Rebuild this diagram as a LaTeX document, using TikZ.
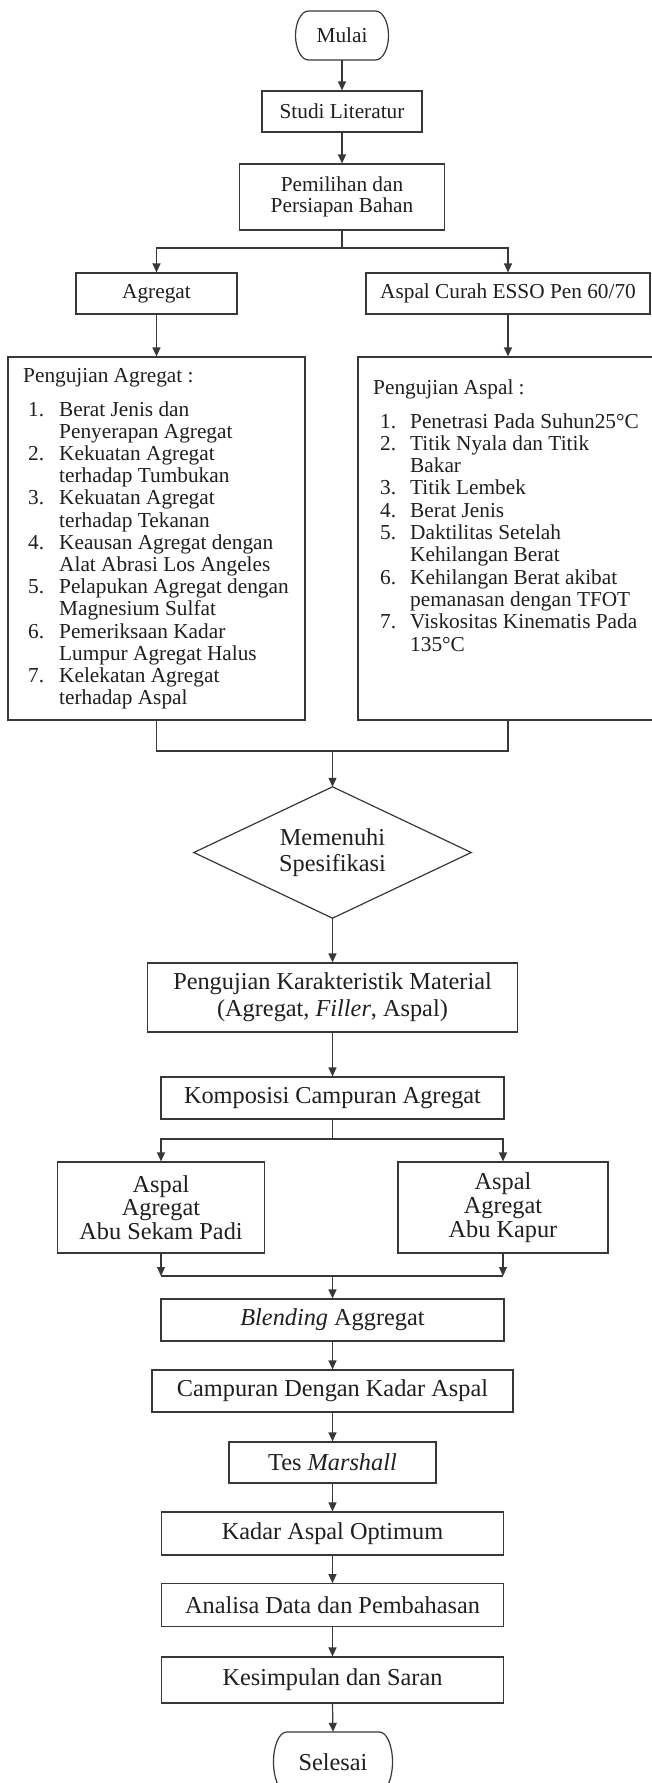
\documentclass[tikz,border=0pt]{standalone}
\usepackage{fontspec}
\setmainfont{Liberation Serif}
\usetikzlibrary{arrows.meta}
\begin{document}
\begin{tikzpicture}[x=1pt,y=-1pt,
  every node/.style={inner sep=0pt, text=black!88},
  ln/.style={draw=black!78, line width=1.2pt},
  arr/.style={ln, -{Triangle[length=9pt,width=8pt]}},
  bx/.style={draw=black!78, line width=1.2pt},
  ftop/.style={font=\fontsize{21.3pt}{21.5pt}\selectfont},
  fbot/.style={font=\fontsize{24.3pt}{24pt}\selectfont}]
\useasboundingbox (0,0) rectangle (652,1783);
\fill[white] (0,0) rectangle (652,1783);
\clip (0,0) rectangle (652,1783);

% ---------- top chain ----------
\node[ftop, minimum width=93pt, minimum height=49pt] (mulai) at (342,35.5) {Mulai};
\draw[ln] (308.5,11) -- (375.5,11) .. controls (382.7,11) and (388.5,22) .. (388.5,35.5)
  .. controls (388.5,49) and (382.7,60) .. (375.5,60) -- (308.5,60)
  .. controls (301.3,60) and (295.5,49) .. (295.5,35.5)
  .. controls (295.5,22) and (301.3,11) .. (308.5,11) -- cycle;

\node[bx, ftop, minimum width=160pt, minimum height=41pt] (studi) at (342,111.5) {Studi Literatur};
\node[bx, ftop, align=center, minimum width=205pt, minimum height=66pt] (pilih) at (342,197) {Pemilihan dan\\Persiapan Bahan};
\node[bx, ftop, minimum width=161pt, minimum height=41pt] (agr) at (156.5,293.5) {Agregat};
\node[bx, ftop, minimum width=284pt, minimum height=41pt] (asp) at (508,293.5) {Aspal Curah ESSO Pen 60/70};
\node[bx, minimum width=297pt, minimum height=363pt] (uA) at (156.5,538.5) {};
\node[bx, minimum width=302pt, minimum height=363pt] (uB) at (509,538.5) {};

\draw[arr] (mulai.south) -- (studi.north);
\draw[arr] (studi.south) -- (pilih.north);
\coordinate (s1) at (342,248);
\draw[ln] (pilih.south) -- (s1);
\draw[arr] (s1) -| (agr.north);
\draw[arr] (s1) -| (asp.north);
\draw[arr] (agr.south) -- (agr.south |- uA.north);
\draw[arr] (asp.south) -- (asp.south |- uB.north);

% ---------- lists ----------
\node[ftop, anchor=base west] (hA) at (23,382) {Pengujian Agregat :};
\foreach \n/\t [count=\i from 0] in {1./Berat Jenis dan, /Penyerapan Agregat,
  2./Kekuatan Agregat, /terhadap Tumbukan, 3./Kekuatan Agregat, /terhadap Tekanan,
  4./Keausan Agregat dengan, /Alat Abrasi Los Angeles,
  5./Pelapukan Agregat dengan, /Magnesium Sulfat,
  6./Pemeriksaan Kadar, /Lumpur Agregat Halus, 7./Kelekatan Agregat, /terhadap Aspal}
  \node[ftop, anchor=base west] (la\i) at (28,416+22.2*\i) {\makebox[31pt][l]{\n}\t};

\node[ftop, anchor=base west] (hB) at (373,394) {Pengujian Aspal :};
\foreach \n/\t [count=\i from 0] in {1./Penetrasi Pada Suhun25°C, 2./Titik Nyala dan Titik,
  /Bakar, 3./Titik Lembek, 4./Berat Jenis, 5./Daktilitas Setelah, /Kehilangan Berat,
  6./Kehilangan Berat akibat, /pemanasan dengan TFOT, 7./Viskositas Kinematis Pada, /135°C}
  \node[ftop, anchor=base west] (lb\i) at (380,428+22.3*\i) {\makebox[30pt][l]{\n}\t};

% ---------- merge & decision ----------
\coordinate (m1) at (332.5,751);
\draw[ln] (uA.south) |- (m1);
\draw[ln] (asp.south |- uB.south) |- (m1);

\node[align=center, font=\fontsize{24.3pt}{26pt}\selectfont, minimum width=277pt, minimum height=131pt] (spec) at (332.5,852.5) {Memenuhi\\Spesifikasi};
\draw[ln] (spec.north) -- (spec.east) -- (spec.south) -- (spec.west) -- cycle;
\draw[arr] (m1) -- (spec.north);

\node[bx, align=center, font=\fontsize{24.3pt}{27pt}\selectfont, minimum width=370pt, minimum height=69pt] (pk) at (332.5,997.5) {Pengujian Karakteristik Material\\(Agregat, \textit{Filler}, Aspal)};
\draw[arr] (spec.south) -- (pk.north);

\node[bx, fbot, minimum width=343pt, minimum height=42pt] (komp) at (332.5,1098) {Komposisi Campuran Agregat};
\draw[arr] (pk.south) -- (komp.north);

\node[bx, align=center, font=\fontsize{24.3pt}{23.8pt}\selectfont, minimum width=207pt, minimum height=91pt] (campA) at (161,1207.5) {Aspal\\Agregat\\Abu Sekam Padi};
\node[bx, align=center, font=\fontsize{24.3pt}{23.8pt}\selectfont, minimum width=210pt, minimum height=91pt] (campB) at (503,1207.5) {Aspal\\Agregat\\Abu Kapur};
\coordinate (s2) at (332.5,1139);
\draw[ln] (komp.south) -- (s2);
\draw[arr] (s2) -| (campA.north);
\draw[arr] (s2) -| (campB.north);

\coordinate (mA) at (161,1276);
\coordinate (mB) at (503,1276);
\coordinate (m2) at (332.5,1276);
\draw[arr] (campA.south) -- (mA);
\draw[arr] (campB.south) -- (mB);
\draw[ln] (mA) -- (mB);

\node[bx, fbot, minimum width=343pt, minimum height=42pt] (blend) at (332.5,1320) {\textit{Blending} Aggregat};
\draw[arr] (m2) -- (blend.north);
\node[bx, fbot, minimum width=361pt, minimum height=42pt] (camp) at (332.5,1391) {Campuran Dengan Kadar Aspal};
\draw[arr] (blend.south) -- (camp.north);
\node[bx, fbot, minimum width=207pt, minimum height=41pt] (tes) at (332.5,1462.5) {Tes \textit{Marshall}};
\draw[arr] (camp.south) -- (tes.north);
\node[bx, fbot, minimum width=342pt, minimum height=43pt] (kadar) at (332.5,1533.5) {Kadar Aspal Optimum};
\draw[arr] (tes.south) -- (kadar.north);
\node[bx, fbot, minimum width=342pt, minimum height=42.5pt] (anal) at (332.5,1605) {Analisa Data dan Pembahasan};
\draw[arr] (kadar.south) -- (anal.north);
\node[bx, fbot, minimum width=342pt, minimum height=46pt] (kes) at (332.5,1680) {Kesimpulan dan Saran};
\draw[arr] (anal.south) -- (kes.north);

\node[fbot, minimum width=119pt, minimum height=60pt] (sel) at (333,1762) {Selesai};
\draw[ln] (286.5,1732) -- (379.5,1732) .. controls (386.7,1732) and (392.5,1745.4) .. (392.5,1762)
  .. controls (392.5,1778.6) and (386.7,1792) .. (379.5,1792) -- (286.5,1792)
  .. controls (279.3,1792) and (273.5,1778.6) .. (273.5,1762)
  .. controls (273.5,1745.4) and (279.3,1732) .. (286.5,1732) -- cycle;
\draw[arr] (kes.south) -- (sel.north);
\end{tikzpicture}
\end{document}
